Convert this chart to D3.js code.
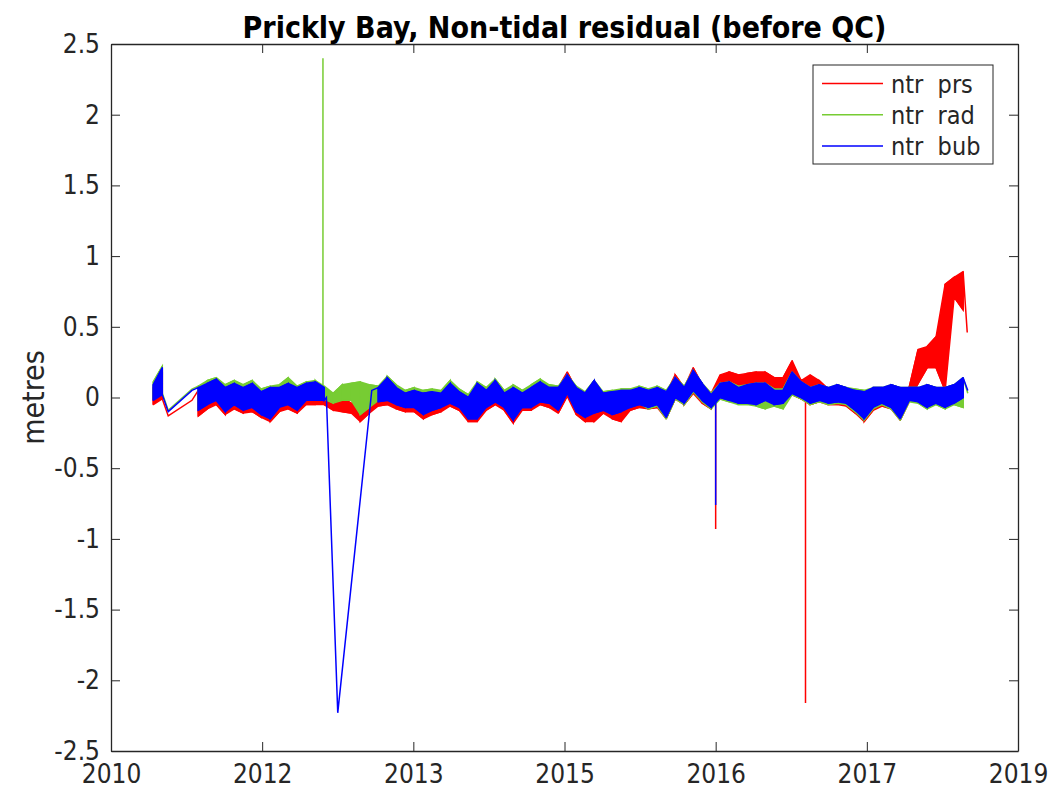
<!DOCTYPE html>
<html>
<head>
<meta charset="utf-8">
<script src="https://cdn.jsdelivr.net/npm/d3@7"></script>
<style>
  body { margin: 0; background: #fff; }
  svg text { font-family: "DejaVu Sans Condensed", "Liberation Sans Narrow", "DejaVu Sans", sans-serif; font-stretch: condensed; fill: #262626; }
</style>
</head>
<body>
<svg id="chart" width="1051" height="794"></svg>
<script>
// x axis: evenly spaced ticks, labelled by year (as MATLAB datetick did)
var xTicks = [2010.9, 2012.3, 2013.7, 2015.1, 2016.5, 2017.9, 2019.3];
var xTickLabels = ['2010', '2012', '2013', '2015', '2016', '2017', '2019'];
var yTicks = [2.5, 2, 1.5, 1, 0.5, 0, -0.5, -1, -1.5, -2, -2.5];
var yTickLabels = ['2.5', '2', '1.5', '1', '0.5', '0', '-0.5', '-1', '-1.5', '-2', '-2.5'];

// monthly min / max of the residual, first month is April 2011
var firstYear = 2011, firstMonth = 4;

var prsLo = [
  -0.05, -0.01, null, null, null, -0.13, -0.08, -0.05, -0.12,
  -0.08, -0.11, -0.10, -0.14, -0.17, -0.10, -0.08, -0.11, -0.05, -0.05, -0.05, -0.09,
  -0.10, -0.11, -0.17, -0.11, -0.06, -0.05, -0.08, -0.10, -0.10, -0.15, -0.12, -0.10,
  -0.06, -0.09, -0.17, -0.17, -0.09, -0.05, -0.09, -0.18, -0.09, -0.09, -0.05, -0.07,
  -0.11, 0.01, -0.12, -0.17, -0.17, -0.11, -0.15, -0.17, -0.09, -0.07, -0.08, -0.07,
  -0.15, -0.01, -0.05, 0.03, -0.04, -0.08, 0.03, 0.03, 0.02, 0.02, 0.02, 0.03,
  -0.02, -0.02, 0.02, -0.01, -0.05, -0.03, -0.05, -0.05, -0.06, -0.11, -0.17, -0.09,
  -0.06, -0.08, -0.16, -0.03, 0.10, 0.21, 0.21, 0.05, 0.71, 0.62
];
var prsHi = [
  0.07, 0.18, null, null, null, 0.05, 0.08, 0.11, 0.05,
  0.08, 0.05, 0.08, 0.02, 0.05, 0.05, 0.08, 0.05, 0.08, 0.09, 0.05, -0.02,
  0.00, -0.04, -0.07, -0.02, 0.05, 0.12, 0.05, 0.01, 0.03, 0.01, 0.02, 0.01,
  0.08, 0.02, -0.02, 0.08, 0.03, 0.10, 0.01, 0.05, 0.01, 0.05, 0.09, 0.06,
  0.07, 0.18, 0.06, 0.02, 0.11, 0.02, 0.04, 0.04, 0.05, 0.06, 0.04, 0.06,
  0.03, 0.16, 0.07, 0.21, 0.09, 0.03, 0.16, 0.18, 0.16, 0.17, 0.18, 0.18,
  0.14, 0.14, 0.26, 0.12, 0.16, 0.12, 0.06, 0.08, 0.06, 0.04, 0.03, 0.06,
  0.06, 0.08, 0.06, 0.07, 0.34, 0.36, 0.43, 0.80, 0.85, 0.89
];
var radLo = [
  -0.01, 0.03, null, null, null, -0.08, -0.04, -0.01, -0.09,
  -0.04, -0.08, -0.06, -0.11, -0.14, -0.06, -0.04, -0.08, -0.01, -0.01, -0.01, -0.04,
  -0.02, -0.02, -0.12, -0.07, -0.02, -0.01, -0.04, -0.06, -0.06, -0.11, -0.08, -0.06,
  -0.03, -0.06, -0.14, -0.14, -0.06, -0.02, -0.06, -0.15, -0.06, -0.06, -0.02, -0.03,
  -0.08, 0.04, -0.09, -0.13, -0.10, -0.08, -0.11, -0.09, -0.06, -0.04, -0.08, -0.06,
  -0.15, -0.01, -0.05, 0.04, -0.03, -0.08, -0.01, -0.03, -0.05, -0.05, -0.06, -0.08,
  -0.06, -0.08, 0.02, -0.01, -0.05, -0.03, -0.05, -0.04, -0.05, -0.10, -0.16, -0.08,
  -0.05, -0.08, -0.16, -0.03, -0.04, -0.08, -0.05, -0.08, -0.05, -0.07
];
var radHi = [
  0.11, 0.22, null, null, null, 0.08, 0.12, 0.14, 0.09,
  0.12, 0.09, 0.12, 0.06, 0.08, 0.09, 0.14, 0.08, 0.11, 0.12, 0.08, 0.03,
  0.09, 0.10, 0.11, 0.09, 0.08, 0.15, 0.09, 0.05, 0.07, 0.05, 0.06, 0.05,
  0.12, 0.06, 0.02, 0.11, 0.07, 0.13, 0.05, 0.09, 0.05, 0.09, 0.13, 0.09,
  0.08, 0.16, 0.08, 0.04, 0.12, 0.04, 0.05, 0.06, 0.06, 0.08, 0.06, 0.08,
  0.05, 0.14, 0.08, 0.19, 0.10, 0.03, 0.10, 0.11, 0.08, 0.09, 0.10, 0.10,
  0.06, 0.06, 0.18, 0.11, 0.07, 0.09, 0.07, 0.09, 0.07, 0.06, 0.05, 0.07,
  0.07, 0.09, 0.07, 0.07, 0.07, 0.09, 0.07, 0.07, 0.09, 0.14
];
var bubLo = [
  -0.02, 0.02, null, null, null, -0.09, -0.05, -0.02, -0.10,
  -0.05, -0.09, -0.07, -0.12, -0.15, -0.07, -0.05, -0.09, -0.02, -0.02, -0.02, null,
  null, null, null, null, -0.03, -0.02, -0.05, -0.07, -0.07, -0.12, -0.09, -0.07,
  -0.04, -0.07, -0.15, -0.15, -0.07, -0.03, -0.07, -0.16, -0.07, -0.07, -0.03, -0.04,
  -0.09, 0.03, -0.10, -0.14, -0.11, -0.09, -0.12, -0.10, -0.07, -0.05, -0.07, -0.05,
  -0.14, 0.00, -0.04, 0.05, -0.02, -0.07, 0.00, -0.02, -0.04, -0.04, -0.05, -0.02,
  -0.05, -0.04, 0.03, 0.00, -0.04, -0.02, -0.04, -0.03, -0.04, -0.09, -0.15, -0.07,
  -0.04, -0.07, -0.15, -0.02, -0.03, -0.07, -0.04, -0.07, -0.04, 0.00
];
var bubHi = [
  0.09, 0.21, null, null, null, 0.07, 0.10, 0.13, 0.07,
  0.10, 0.07, 0.10, 0.04, 0.07, 0.07, 0.10, 0.07, 0.10, 0.11, 0.07, null,
  null, null, null, null, 0.07, 0.14, 0.07, 0.03, 0.05, 0.03, 0.04, 0.03,
  0.10, 0.04, 0.00, 0.10, 0.05, 0.12, 0.03, 0.07, 0.03, 0.07, 0.11, 0.07,
  0.07, 0.16, 0.07, 0.03, 0.12, 0.03, 0.04, 0.05, 0.05, 0.07, 0.05, 0.07,
  0.04, 0.14, 0.07, 0.19, 0.10, 0.02, 0.10, 0.11, 0.07, 0.09, 0.10, 0.10,
  0.05, 0.05, 0.18, 0.11, 0.07, 0.09, 0.07, 0.09, 0.07, 0.05, 0.04, 0.07,
  0.07, 0.09, 0.07, 0.07, 0.07, 0.09, 0.07, 0.07, 0.09, 0.14
];

// single samples: gap ends, spikes and the last value, [decimal year, metres]
var prsPoints = [[2011.43, -0.13], [2011.65, -0.02],
  [2016.50, 0.00], [2016.50, -0.93], [2016.50, 0.05],
  [2017.332, -0.02], [2017.332, -2.16], [2017.332, 0.02], [2018.83, 0.46]];
var radPoints = [[2011.43, -0.09], [2011.65, 0.06],
  [2012.863, 0.05], [2012.863, 2.40], [2012.863, 0.03], [2018.835, 0.03]];
var bubPoints = [[2011.43, -0.10], [2011.65, 0.05],
  [2012.895, 0.00], [2013.00, -2.23], [2013.315, 0.05],
  [2016.50, 0.00], [2016.50, -0.76], [2016.50, 0.02], [2018.835, 0.05]];

var seriesNames = ['ntr\u00a0 prs', 'ntr\u00a0 rad', 'ntr\u00a0 bub'];
var seriesColors = ['#ff0000', '#77cc33', '#0000ff'];

var margin = {left: 111, right: 33, top: 44, bottom: 43},
    width = 1051, height = 794;

var svg = d3.select('#chart');

var x = d3.scaleLinear().domain([2010.9, 2019.3]).range([margin.left, width - margin.right]);
var y = d3.scaleLinear().domain([-2.5, 2.5]).range([height - margin.bottom, margin.top]);

function monthYear(i) {
  return firstYear + (firstMonth - 1 + i + 0.5) / 12;
}

function makeSeries(lo, hi, points) {
  var bins = lo.map(function(l, i) { return {t: monthYear(i), lo: l, hi: hi[i]}; });
  var pts = [];
  bins.forEach(function(b, i) {
    if (b.lo == null) return;
    if (i % 2 == 0) pts.push([b.t, b.lo], [b.t, b.hi]);
    else pts.push([b.t, b.hi], [b.t, b.lo]);
  });
  points.forEach(function(p) { pts.push(p); });
  pts.sort(function(a, b) { return a[0] - b[0]; });
  return {bins: bins, pts: pts};
}

var series = [
  makeSeries(prsLo, prsHi, prsPoints),
  makeSeries(radLo, radHi, radPoints),
  makeSeries(bubLo, bubHi, bubPoints)
];

svg.append('defs').append('clipPath').attr('id', 'clip')
  .append('rect')
    .attr('x', margin.left).attr('y', margin.top)
    .attr('width', width - margin.left - margin.right)
    .attr('height', height - margin.top - margin.bottom);

var area = d3.area()
    .defined(function(d) { return d.lo != null; })
    .x(function(d) { return x(d.t); })
    .y0(function(d) { return y(d.lo); })
    .y1(function(d) { return y(d.hi); });

var line = d3.line()
    .x(function(d) { return x(d[0]); })
    .y(function(d) { return y(d[1]); });

var plot = svg.append('g').attr('clip-path', 'url(#clip)');

series.forEach(function(s, i) {
  plot.append('path')
      .datum(s.bins)
      .attr('d', area)
      .attr('fill', seriesColors[i])
      .attr('stroke', seriesColors[i])
      .attr('stroke-width', 1.5)
      .attr('stroke-linejoin', 'round');
  plot.append('path')
      .datum(s.pts)
      .attr('d', line)
      .attr('fill', 'none')
      .attr('stroke', seriesColors[i])
      .attr('stroke-width', 1.5);
});

// axes, MATLAB style: box with inward ticks on every side
var axisColor = '#262626';
var tickLen = 9;

svg.append('g')
    .attr('transform', 'translate(0,' + (height - margin.bottom) + ')')
    .call(d3.axisBottom(x).tickValues(xTicks)
      .tickFormat(function(d, i) { return xTickLabels[i]; })
      .tickSizeInner(-tickLen).tickSizeOuter(0).tickPadding(14));

svg.append('g')
    .attr('transform', 'translate(0,' + margin.top + ')')
    .call(d3.axisTop(x).tickValues(xTicks).tickFormat('')
      .tickSizeInner(-tickLen).tickSizeOuter(0));

svg.append('g')
    .attr('transform', 'translate(' + margin.left + ',0)')
    .call(d3.axisLeft(y).tickValues(yTicks)
      .tickFormat(function(d, i) { return yTickLabels[i]; })
      .tickSizeInner(-tickLen).tickSizeOuter(0).tickPadding(11));

svg.append('g')
    .attr('transform', 'translate(' + (width - margin.right) + ',0)')
    .call(d3.axisRight(y).tickValues(yTicks).tickFormat('')
      .tickSizeInner(-tickLen).tickSizeOuter(0));

svg.selectAll('.domain').attr('stroke', axisColor).attr('stroke-width', 1.3);
svg.selectAll('.tick line').attr('stroke', axisColor).attr('stroke-width', 1);
svg.selectAll('.tick text')
    .attr('font-size', 26)
    .attr('fill', axisColor);

svg.append('text')
    .attr('x', (margin.left + width - margin.right) / 2)
    .attr('y', 38)
    .attr('text-anchor', 'middle')
    .attr('font-size', 30)
    .attr('font-weight', 'bold')
    .style('fill', '#000')
    .text('Prickly Bay, Non-tidal residual (before QC)');

svg.append('text')
    .attr('transform', 'translate(44,' + ((margin.top + height - margin.bottom) / 2) + ') rotate(-90)')
    .attr('text-anchor', 'middle')
    .attr('font-size', 30)
    .text('metres');

// legend
var legend = svg.append('g').attr('transform', 'translate(813,65)');
legend.append('rect')
    .attr('width', 180).attr('height', 99)
    .attr('fill', '#fff')
    .attr('stroke', axisColor)
    .attr('stroke-width', 1);

seriesNames.forEach(function(name, i) {
  var row = legend.append('g').attr('transform', 'translate(0,' + (18.5 + i * 31.2) + ')');
  row.append('line')
      .attr('x1', 9).attr('x2', 70)
      .attr('stroke', seriesColors[i])
      .attr('stroke-width', 1.5);
  row.append('text')
      .attr('x', 78).attr('dy', '0.36em')
      .attr('font-size', 25)
      .text(name);
});
</script>
</body>
</html>
